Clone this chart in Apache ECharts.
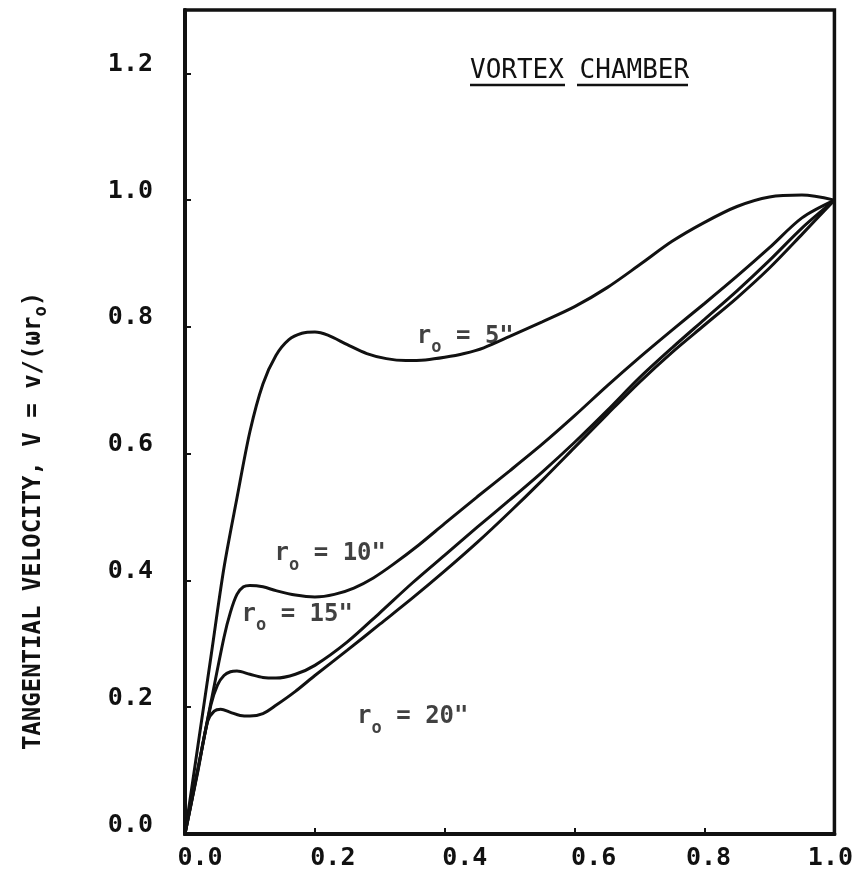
<!DOCTYPE html>
<html><head><meta charset="utf-8">
<script src="https://cdn.jsdelivr.net/npm/echarts@6/dist/echarts.min.js"></script>
<style>html,body{margin:0;padding:0;background:#fff}#c{width:856px;height:880px}</style>
</head><body><div id="c"></div>
<script>
// Axis ticks
const xTicks = [0, 0.2, 0.4, 0.6, 0.8, 1.0];
const xTickLabels = ['0.0', '0.2', '0.4', '0.6', '0.8', '1.0'];
const yTicks = [0, 0.2, 0.4, 0.6, 0.8, 1.0, 1.2];
const yTickLabels = ['0.0', '0.2', '0.4', '0.6', '0.8', '1.0', '1.2'];

// r0 = 5"
const r5X = [0, 0.02, 0.04, 0.06, 0.08, 0.10, 0.12, 0.14, 0.16, 0.18, 0.20, 0.22, 0.25, 0.28, 0.31, 0.34, 0.37, 0.40, 0.43, 0.46, 0.50, 0.55, 0.60, 0.65, 0.70, 0.75, 0.80, 0.85, 0.90, 0.95, 1.0];
const r5Y = [0, 0.14, 0.28, 0.42, 0.53, 0.635, 0.71, 0.755, 0.78, 0.79, 0.792, 0.787, 0.772, 0.758, 0.75, 0.747, 0.748, 0.752, 0.758, 0.767, 0.785, 0.808, 0.832, 0.862, 0.898, 0.935, 0.965, 0.99, 1.005, 1.008, 1.0];
// r0 = 10"
const r10X = [0, 0.02, 0.04, 0.06, 0.07, 0.08, 0.09, 0.10, 0.12, 0.14, 0.17, 0.20, 0.23, 0.26, 0.29, 0.32, 0.36, 0.40, 0.45, 0.50, 0.55, 0.60, 0.65, 0.70, 0.75, 0.80, 0.85, 0.90, 0.95, 1.0];
const r10Y = [0, 0.104, 0.208, 0.31, 0.35, 0.378, 0.39, 0.392, 0.39, 0.384, 0.377, 0.374, 0.378, 0.388, 0.404, 0.425, 0.456, 0.49, 0.532, 0.573, 0.615, 0.66, 0.707, 0.752, 0.795, 0.837, 0.88, 0.925, 0.972, 1.0];
// r0 = 15"
const r15X = [0, 0.02, 0.04, 0.05, 0.06, 0.07, 0.08, 0.10, 0.12, 0.14, 0.17, 0.20, 0.25, 0.30, 0.35, 0.40, 0.45, 0.50, 0.55, 0.60, 0.65, 0.70, 0.75, 0.80, 0.85, 0.90, 0.95, 1.0];
const r15Y = [0, 0.102, 0.204, 0.235, 0.25, 0.256, 0.257, 0.252, 0.247, 0.246, 0.252, 0.266, 0.303, 0.349, 0.396, 0.44, 0.484, 0.527, 0.571, 0.618, 0.668, 0.72, 0.767, 0.812, 0.857, 0.905, 0.956, 1.0];
// r0 = 20"
const r20X = [0, 0.02, 0.035, 0.045, 0.055, 0.07, 0.085, 0.10, 0.12, 0.14, 0.17, 0.20, 0.25, 0.30, 0.35, 0.40, 0.45, 0.50, 0.55, 0.60, 0.65, 0.70, 0.75, 0.80, 0.85, 0.90, 0.95, 1.0];
const r20Y = [0, 0.10, 0.178, 0.194, 0.197, 0.192, 0.187, 0.186, 0.19, 0.203, 0.225, 0.25, 0.29, 0.331, 0.372, 0.415, 0.46, 0.508, 0.558, 0.61, 0.662, 0.713, 0.76, 0.803, 0.846, 0.893, 0.946, 1.0];

// Curve labels (anchor in data units)
const labelNums = ['5"', '10"', '15"', '20"'];
const labelX = [0.357, 0.138, 0.087, 0.265];
const labelY = [0.767, 0.424, 0.329, 0.167];

const titleText = 'VORTEX CHAMBER';
const yTitleMain = 'TANGENTIAL VELOCITY, V = v/(ωr';

const zip = (xs, ys) => xs.map((x, i) => [x, ys[i]]);
const MONO = '"DejaVu Sans Mono", monospace';

const xOff = [15, 18, 20, 19, 4, -4];
const xRich = {};
xOff.forEach((o, i) => {
  xRich['k' + i] = {
    fontFamily: MONO, fontWeight: 'bold', fontSize: 25, color: '#111',
    padding: o >= 0 ? [0, 0, 0, 2 * o] : [0, -2 * o, 0, 0]
  };
});

const lineSeries = (data) => ({
  type: 'line', data: data, showSymbol: false, symbol: 'none',
  smooth: 0.3, lineStyle: { color: '#111', width: 3 }, silent: true, z: 3
});

const annRich = {
  m: { fontFamily: MONO, fontWeight: 'bold', fontSize: 24, color: '#111', lineHeight: 24, verticalAlign: 'top' },
  s: { fontFamily: MONO, fontWeight: 'bold', fontSize: 17, color: '#111', lineHeight: 46, verticalAlign: 'middle' }
};

const chart = echarts.init(document.getElementById('c'), null, { renderer: 'canvas' });
chart.setOption({
  animation: false,
  backgroundColor: '#fff',
  grid: { left: 185, right: 20, top: 10, bottom: 46, show: true, borderColor: '#111', borderWidth: 3.5, backgroundColor: 'transparent' },
  xAxis: {
    type: 'value', min: 0, max: 1,
    axisLine: { show: true, lineStyle: { color: '#111', width: 4 } },
    axisTick: { show: true, inside: true, length: 6, customValues: xTicks, lineStyle: { color: '#111', width: 2 } },
    axisLabel: {
      customValues: xTicks, margin: 12,
      formatter: (v) => { const i = Math.round(v * 5); return '{k' + i + '|' + xTickLabels[i] + '}'; },
      rich: xRich
    },
    splitLine: { show: false }
  },
  yAxis: {
    type: 'value', min: 0, max: 1.3,
    axisLine: { show: true, lineStyle: { color: '#111', width: 4 } },
    axisTick: { show: true, inside: true, length: 6, customValues: yTicks, lineStyle: { color: '#111', width: 2 } },
    axisLabel: {
      customValues: yTicks, margin: 32,
      formatter: (v) => yTickLabels[Math.round(v * 5)],
      fontFamily: MONO, fontWeight: 'bold', fontSize: 25, color: '#111',
      verticalAlign: 'bottom', lineHeight: 18
    },
    splitLine: { show: false }
  },
  series: [
    lineSeries(zip(r5X, r5Y)),
    lineSeries(zip(r10X, r10Y)),
    lineSeries(zip(r15X, r15Y)),
    lineSeries(zip(r20X, r20Y)),
    {
      type: 'scatter', symbolSize: 0, silent: true, z: 4,
      data: labelNums.map((n, i) => ({ value: [labelX[i], labelY[i]], name: n })),
      label: {
        show: true, position: 'right', distance: 0,
        formatter: (p) => '{m|r}{s|o}{m| = ' + p.name + '}',
        rich: annRich
      }
    }
  ],
  graphic: [
    {
      type: 'text', x: 470, y: 71, z: 10,
      style: { text: titleText, font: '26px "DejaVu Sans Mono", monospace', fill: '#111', align: 'left', verticalAlign: 'middle' }
    },
    { type: 'line', shape: { x1: 470, y1: 85, x2: 565, y2: 85 }, style: { stroke: '#111', lineWidth: 2.5 }, z: 10 },
    { type: 'line', shape: { x1: 577, y1: 85, x2: 688, y2: 85 }, style: { stroke: '#111', lineWidth: 2.5 }, z: 10 },
    {
      type: 'text', x: 42, y: 521, rotation: Math.PI / 2, z: 10,
      style: {
        text: '{m|' + yTitleMain + '}{s|o}{m|)}',
        align: 'center', verticalAlign: 'middle',
        rich: {
          m: { fontFamily: MONO, fontWeight: 'bold', fontSize: 24, fill: '#111', color: '#111', lineHeight: 24, verticalAlign: 'top' },
          s: { fontFamily: MONO, fontWeight: 'bold', fontSize: 17, fill: '#111', color: '#111', lineHeight: 40, verticalAlign: 'middle' }
        }
      }
    }
  ]
});
</script>
</body></html>
